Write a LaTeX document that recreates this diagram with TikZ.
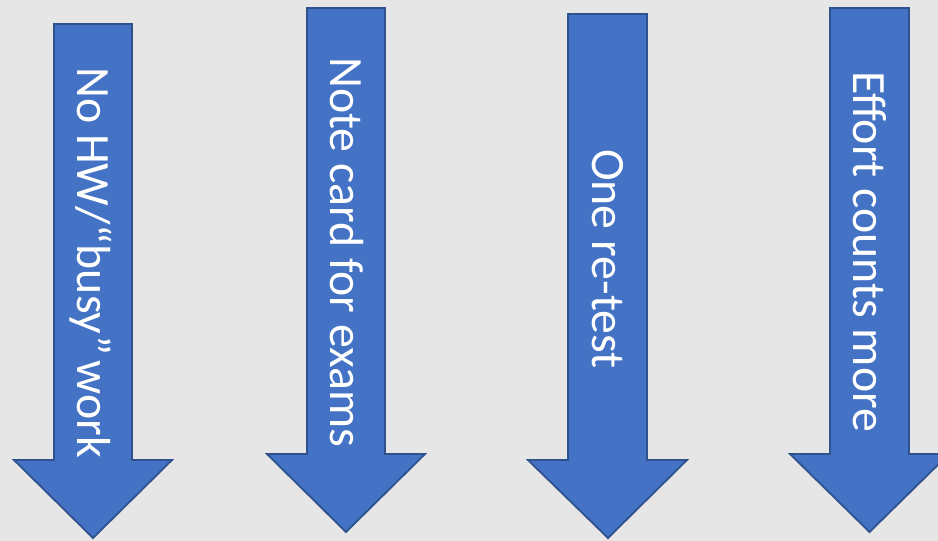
\documentclass[tikz,border=0pt]{standalone}
\usepackage{fontspec}
\setmainfont{Carlito}
\definecolor{bg}{HTML}{E6E6E6}
\definecolor{arrfill}{HTML}{4472C4}
\definecolor{arredge}{HTML}{2F528F}
\tikzset{
  bigarrow/.style={fill=arrfill, draw=arredge, line width=1.8pt, line join=miter},
  arrtext/.style={rotate=-90, anchor=base west, inner sep=0pt, text=white,
    font=\fontsize{47.8}{52}\selectfont}
}
\begin{document}
\begin{tikzpicture}[x=1pt,y=-1pt]
\useasboundingbox (0,0) rectangle (938,541);
\clip (0,0) rectangle (938,541);
\fill[bg] (0,0) rectangle (938,541);
% arrow 1
\draw[bigarrow] (54,24) -- (132,24) -- (132,460) -- (172,460) -- (93,538) -- (14,460) -- (54,460) -- cycle;
% arrow 2
\draw[bigarrow] (307,8) -- (385,8) -- (385,454) -- (425,454) -- (346,532) -- (267,454) -- (307,454) -- cycle;
% arrow 3
\draw[bigarrow] (568,14) -- (647,14) -- (647,460) -- (687,460) -- (608,538) -- (528,460) -- (568,460) -- cycle;
% arrow 4
\draw[bigarrow] (830,8) -- (909,8) -- (909,454) -- (949,454) -- (869.5,532) -- (790,454) -- (830,454) -- cycle;
\node[arrtext] (t1) at (77,67) {No HW/“busy”\hspace{-0.12em} work};
\node[arrtext] (t2) at (330,57) {Note card for exams};
\node[arrtext] (t3) at (592,149) {One re-test};
\node[arrtext] (t4) at (853,71) {Effort counts more};
\end{tikzpicture}
\end{document}
